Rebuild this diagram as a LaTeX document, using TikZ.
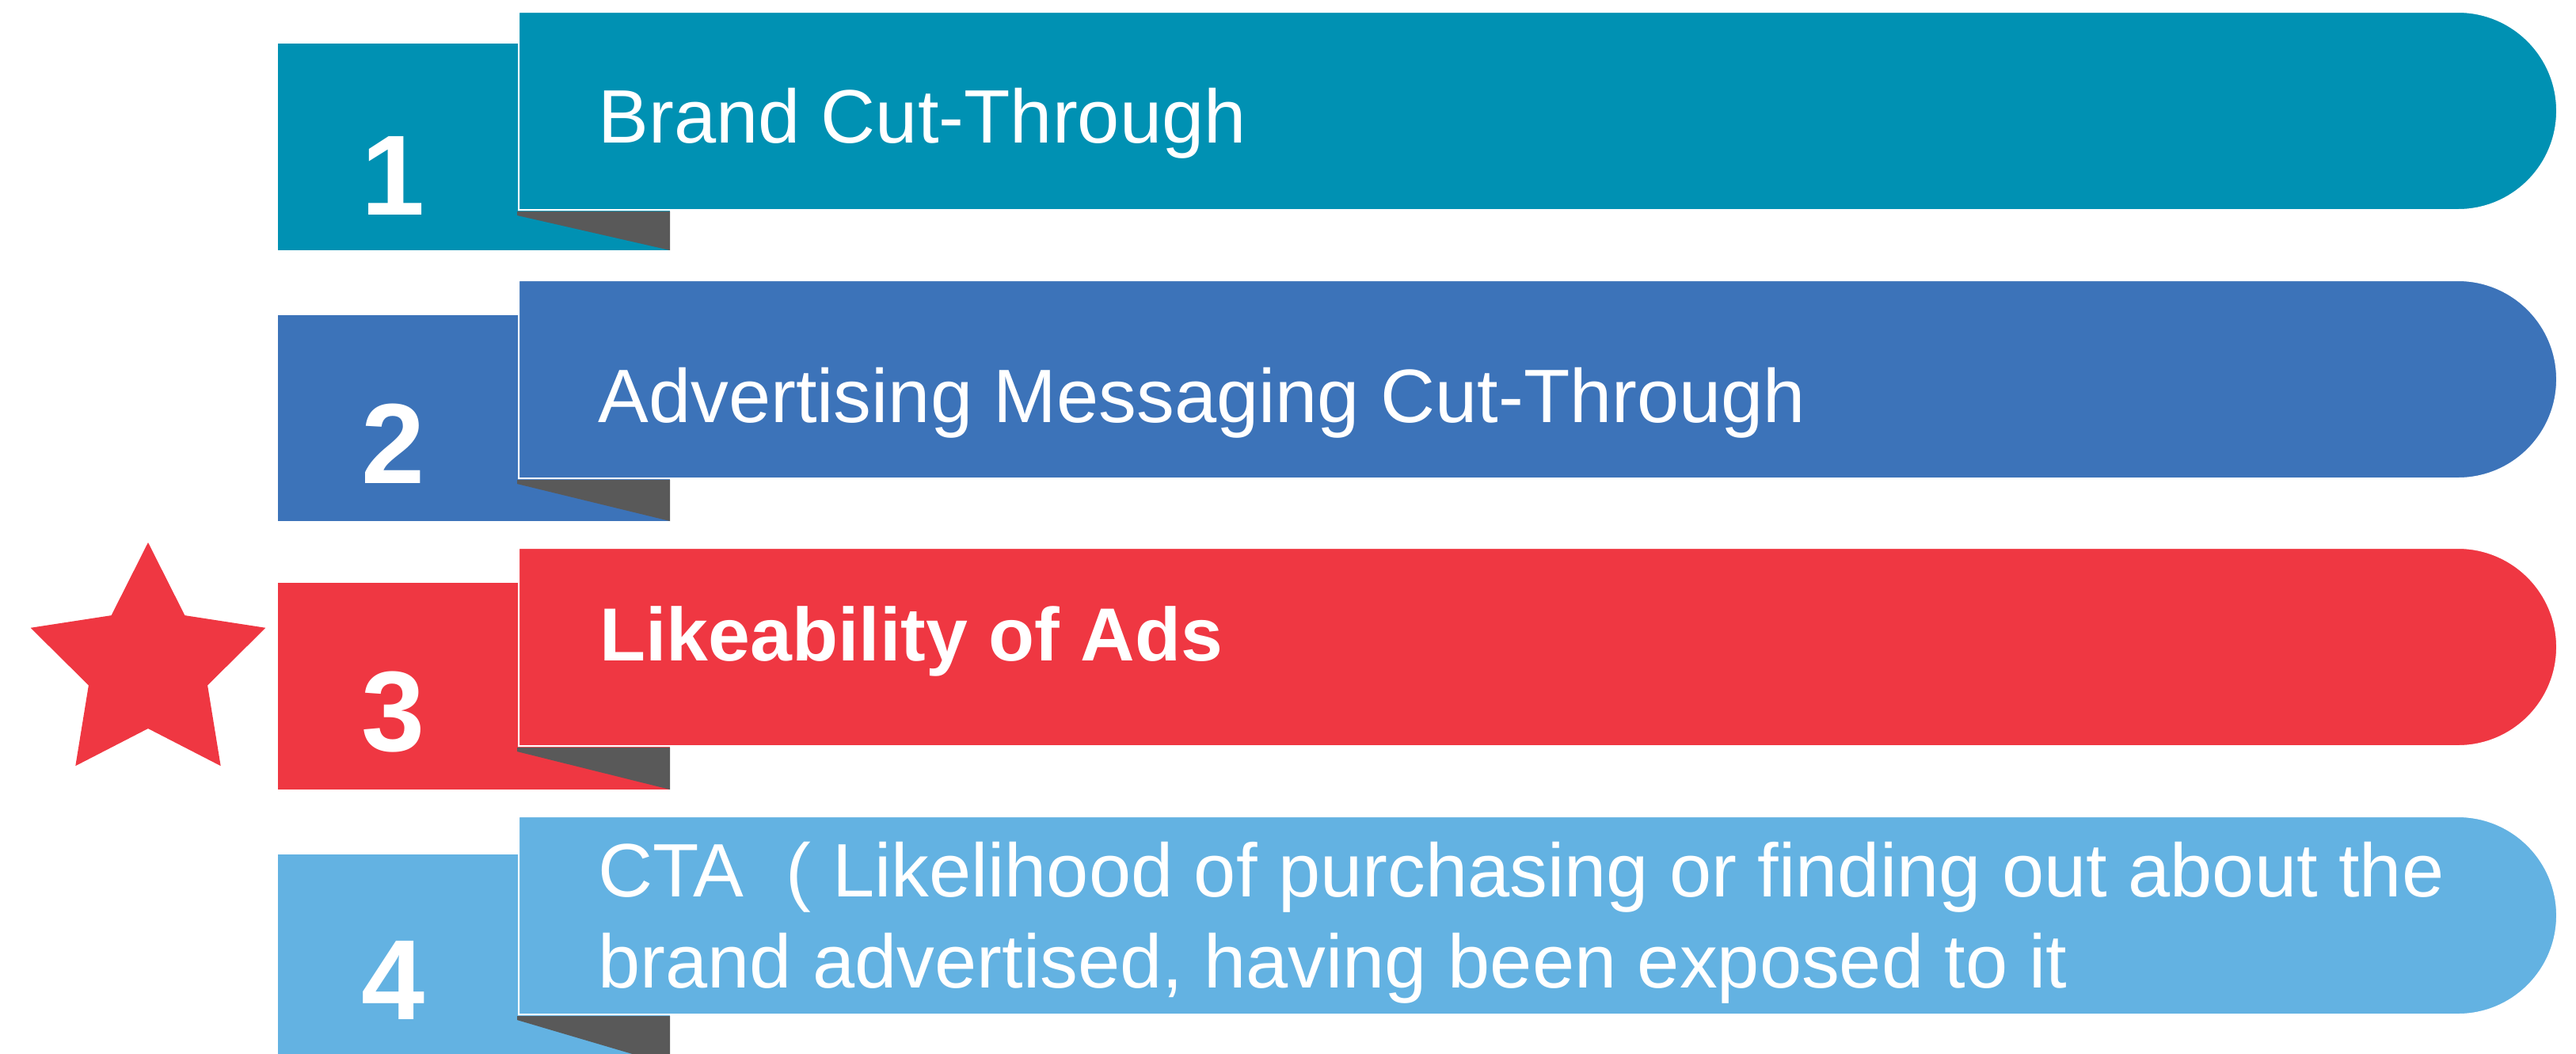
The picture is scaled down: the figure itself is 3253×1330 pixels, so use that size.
\documentclass[tikz,border=0pt]{standalone}
\usepackage{fontspec}
\setmainfont{Liberation Sans}
\definecolor{rowA}{HTML}{0091B3}
\definecolor{rowB}{HTML}{3C73B9}
\definecolor{rowC}{HTML}{EF3742}
\definecolor{rowD}{HTML}{63B2E2}
\definecolor{foldgray}{HTML}{595959}
\begin{document}
\begin{tikzpicture}[x=0.5pt,y=-0.5pt,
  banner/.style={line width=1pt,draw=white},
  tabnum/.style={text=white,inner sep=0pt,anchor=base,
    font=\bfseries\fontsize{72}{80}\selectfont},
  bantext/.style={text=white,inner sep=0pt,anchor=base west,
    font=\fontsize{47.8}{58}\selectfont},
  fold/.style={fill=foldgray}]
\useasboundingbox (0,0) rectangle (3253,1330);
\clip (0,0) rectangle (3253,1330);

% one row per item: banner top, tab top, tab bottom, colour, number
\foreach \t/\tt/\tb/\c/\n in {15/55/316/rowA/1, 354/398/658/rowB/2,
                               692/736/997/rowC/3, 1031/1079/1345/rowD/4}{
  \pgfmathsetmacro{\b}{\t+250}
  % number tab behind the banner
  \fill[\c] (351,\tt) rectangle (846,\tb);
  % folded corner under the banner
  \fill[fold] (653,\b+2) -- (846,\b+2) -- (846,\tb) -- (653,\b+7) -- cycle;
  % banner with rounded right end
  \filldraw[banner,fill=\c] (655,\t) -- (3104,\t)
      arc[start angle=-90,end angle=90,radius=125] -- (655,\b) -- cycle;
  \node[tabnum] (num\n) at (497,\b+6) {\n};
}

\node[bantext] (t1) at (755,180) {Brand Cut-Through};
\node[bantext] (t2) at (755,533) {Advertising Messaging Cut-Through};
\node[bantext,font=\bfseries\fontsize{47.5}{58}\selectfont] (t3) at (757,834) {Likeability of Ads};
\node[bantext] (t4a) at (755,1132) {CTA\ \ ( Likelihood of purchasing or finding out about the};
\node[bantext] (t4b) at (755,1247) {brand advertised, having been exposed to it};

% star marking the highlighted item
\fill[rowC] (187,685) -- (233.4,777.1) -- (335.4,792.8) -- (262.1,865.4)
  -- (278.7,967.2) -- (187,920) -- (95.3,967.2) -- (111.9,865.4)
  -- (38.6,792.8) -- (140.6,777.1) -- cycle;
\end{tikzpicture}
\end{document}
